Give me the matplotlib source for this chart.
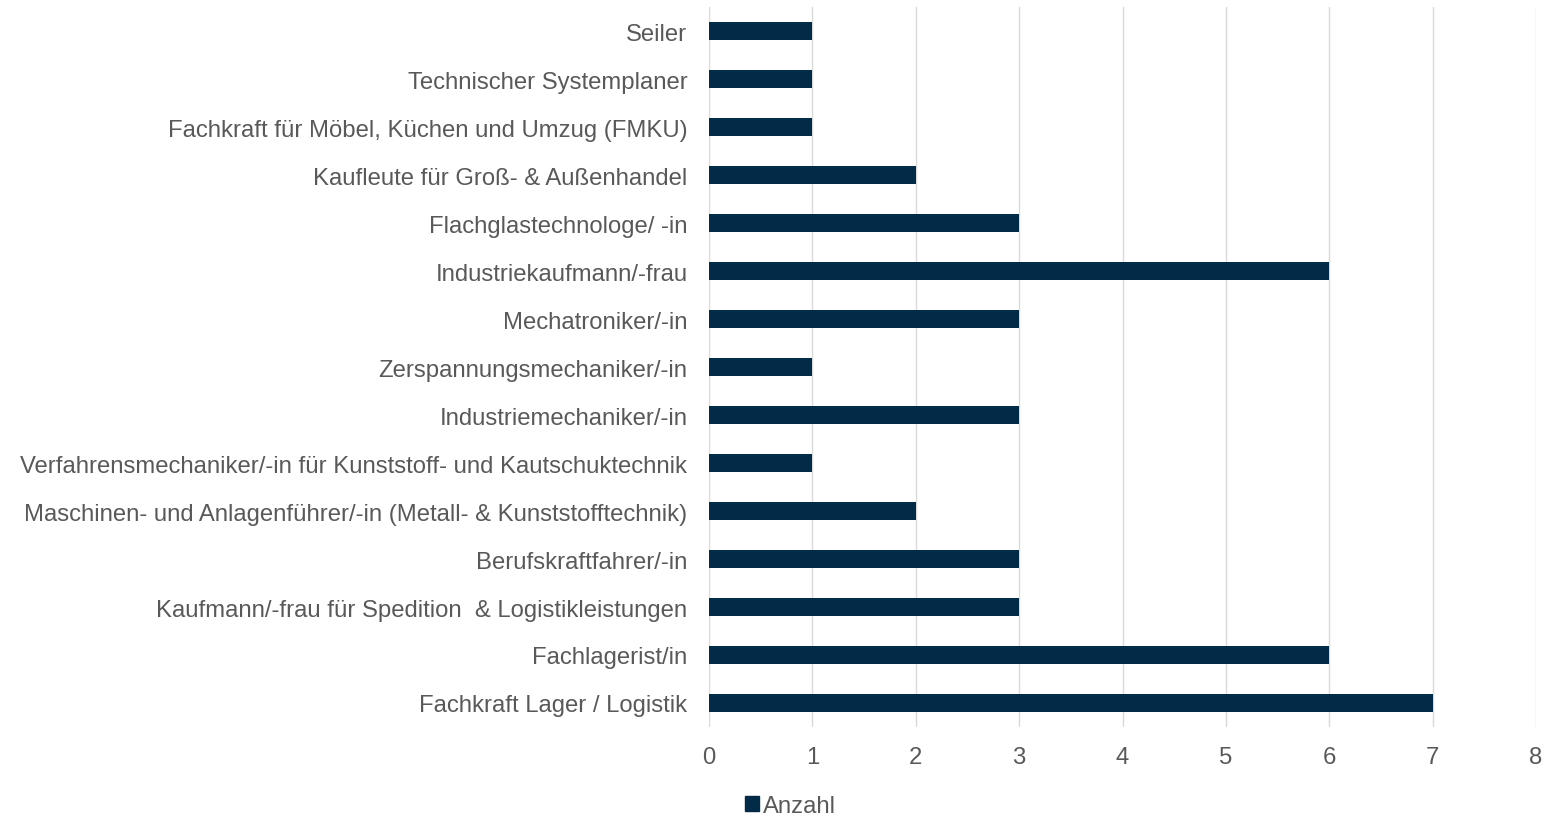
import matplotlib.pyplot as plt
from matplotlib.patches import Patch

plt.rcParams['font.family'] = ['Liberation Sans', 'DejaVu Sans']

berufe = [
    'Fachkraft Lager / Logistik',
    'Fachlagerist/in',
    'Kaufmann/-frau für Spedition  & Logistikleistungen',
    'Berufskraftfahrer/-in',
    'Maschinen- und Anlagenführer/-in (Metall- & Kunststofftechnik)',
    'Verfahrensmechaniker/-in für Kunststoff- und Kautschuktechnik',
    'Industriemechaniker/-in',
    'Zerspannungsmechaniker/-in',
    'Mechatroniker/-in',
    'Industriekaufmann/-frau',
    'Flachglastechnologe/ -in',
    'Kaufleute für Groß- & Außenhandel',
    'Fachkraft für Möbel, Küchen und Umzug (FMKU)',
    'Technischer Systemplaner',
    'Seiler',
]
anzahl = [7, 6, 3, 3, 2, 1, 3, 1, 3, 6, 3, 2, 1, 1, 1]

bar_color = '#022b47'
text_color = '#595959'
fs = 17.2

fig = plt.figure(figsize=(15.47, 8.2), dpi=100)
ax = fig.add_axes([0.4583, 0.1122, 0.5346, 0.878])

ax.barh(range(len(berufe)), anzahl, height=0.375, color=bar_color, zorder=3)
ax.set_yticks(range(len(berufe)))
ax.set_yticklabels(berufe, fontsize=fs, color=text_color)
ax.set_ylim(-0.5, len(berufe) - 0.5)
ax.set_xlim(0, 8)
ax.set_xticks(range(0, 9))
ax.tick_params(axis='x', labelsize=fs, colors=text_color, length=0, pad=14)
ax.tick_params(axis='y', length=0, pad=15.5)
ax.grid(axis='x', color='#d9d9d9', linewidth=1.0, zorder=0)
for s in ax.spines.values():
    s.set_visible(False)

fig.legend(handles=[Patch(color=bar_color, label='Anzahl')],
           loc='center', bbox_to_anchor=(790 / 1547, 1 - 807 / 820),
           frameon=False, fontsize=fs, handlelength=0.6, handleheight=0.6,
           handletextpad=0.15, labelcolor=text_color)

fig.savefig('out.png', dpi=100)
